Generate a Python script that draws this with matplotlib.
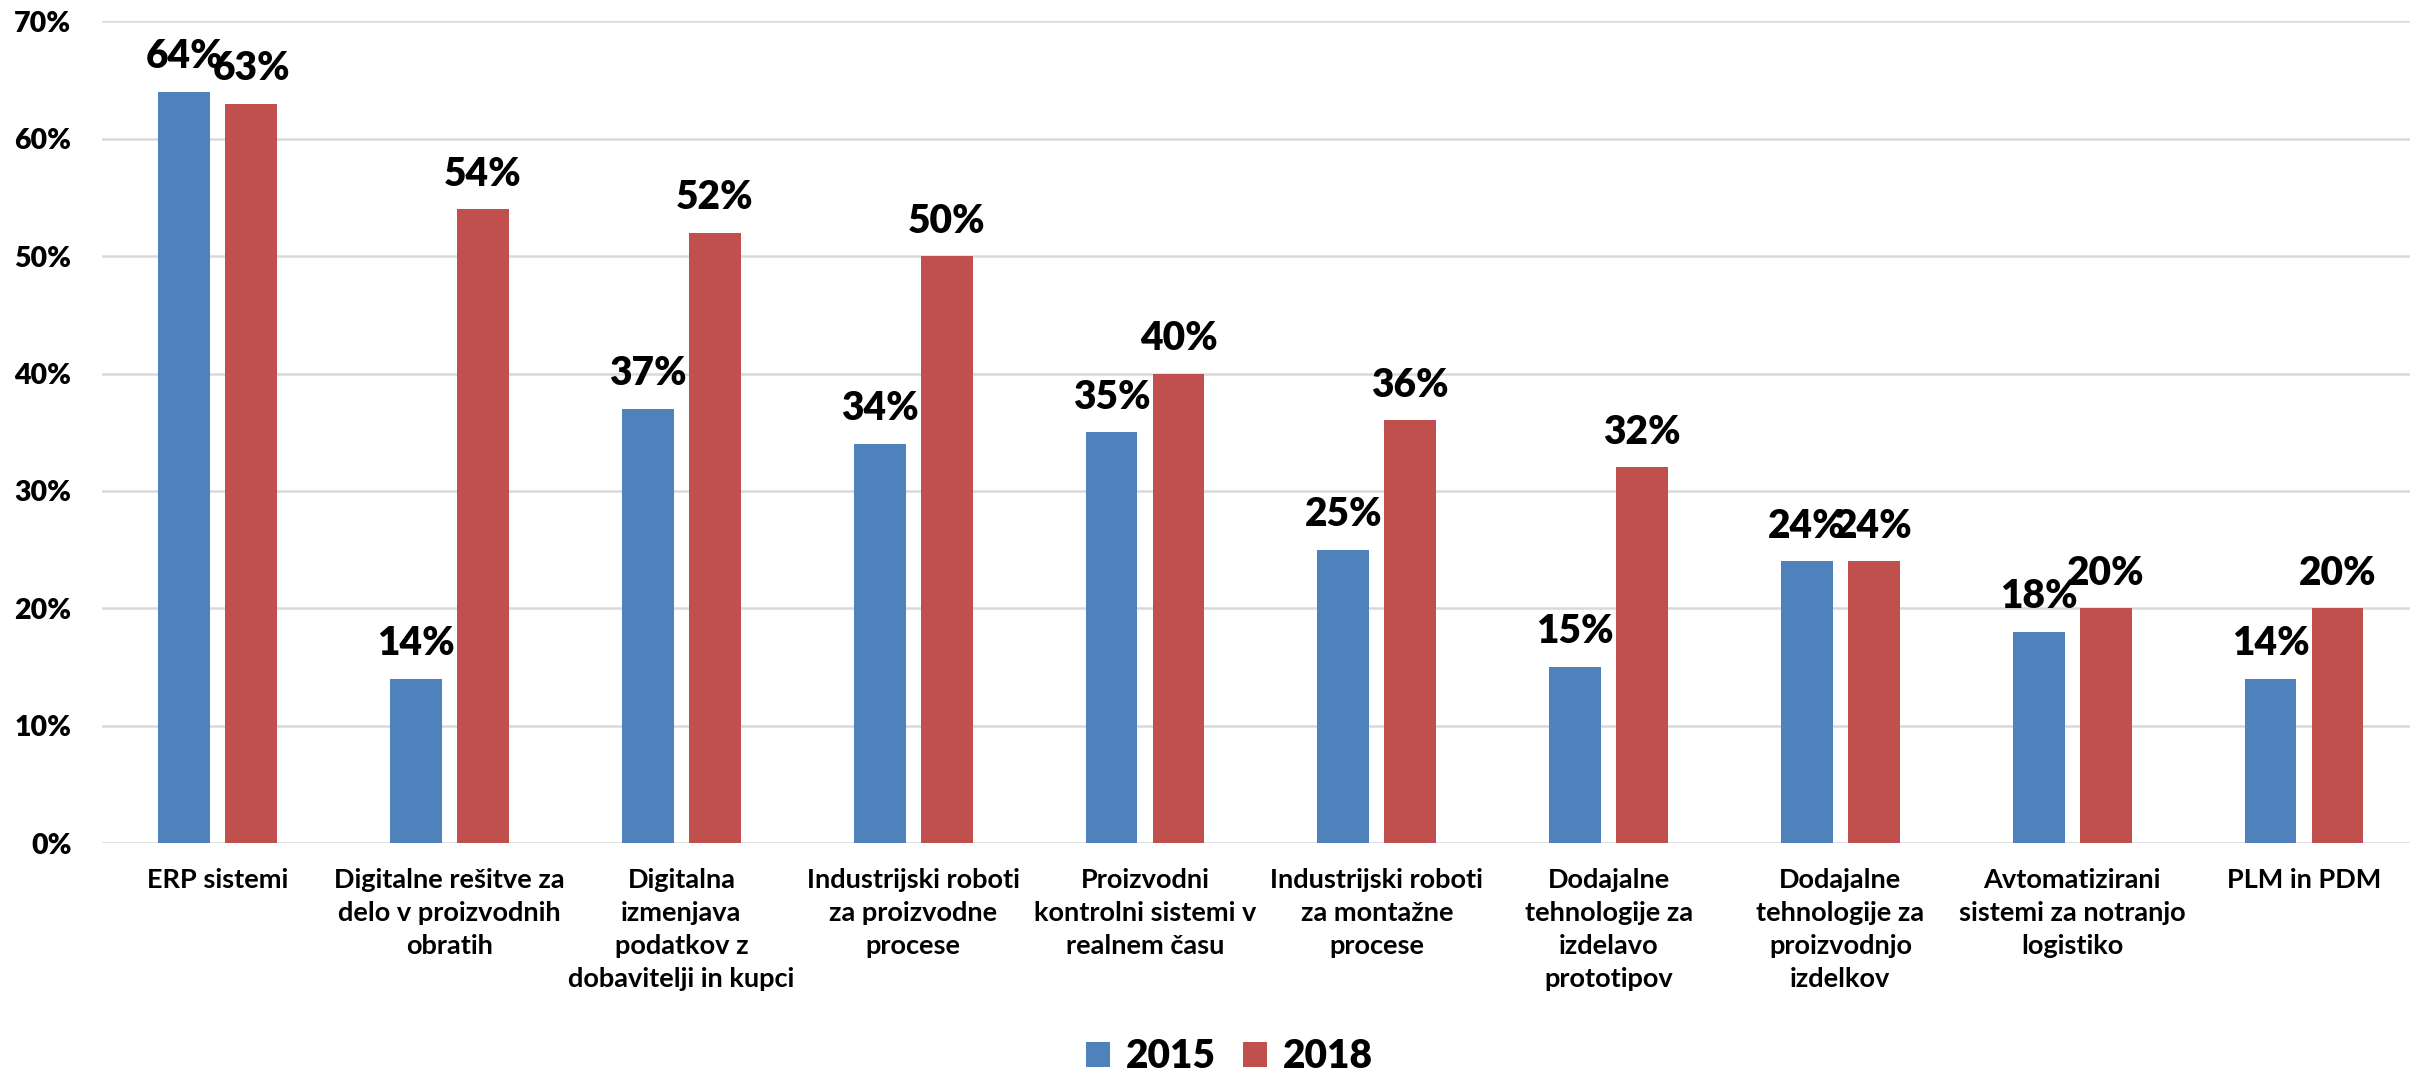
import numpy as np
import matplotlib.pyplot as plt
from matplotlib.ticker import PercentFormatter

plt.rcParams['font.family'] = ['Lato', 'DejaVu Sans']
plt.rcParams['font.weight'] = 'bold'

categories = ['ERP sistemi',
              'Digitalne rešitve za\ndelo v proizvodnih\nobratih',
              'Digitalna\nizmenjava\npodatkov z\ndobavitelji in kupci',
              'Industrijski roboti\nza proizvodne\nprocese',
              'Proizvodni\nkontrolni sistemi v\nrealnem času',
              'Industrijski roboti\nza montažne\nprocese',
              'Dodajalne\ntehnologije za\nizdelavo\nprototipov',
              'Dodajalne\ntehnologije za\nproizvodnjo\nizdelkov',
              'Avtomatizirani\nsistemi za notranjo\nlogistiko',
              'PLM in PDM']
vals_2015 = [64, 14, 37, 34, 35, 25, 15, 24, 18, 14]
vals_2018 = [63, 54, 52, 50, 40, 36, 32, 24, 20, 20]
series = ['2015', '2018']
colors = ['#4F81BD', '#C0504D']

fig = plt.figure(figsize=(24.1, 10.72), dpi=100)
# plot area runs slightly past the right edge, as in the reference
ax = fig.add_axes([0.0423, 0.2136, 0.9618, 0.7664])

x = np.arange(len(categories))
w = 0.224
gap = 0.065
off = (w + gap) / 2
b1 = ax.bar(x - off, vals_2015, w, color=colors[0], label=series[0], zorder=3)
b2 = ax.bar(x + off, vals_2018, w, color=colors[1], label=series[1], zorder=3)

for bars, vals in ((b1, vals_2015), (b2, vals_2018)):
    for r, v in zip(bars, vals):
        ax.annotate(f'{v}%', (r.get_x() + r.get_width() / 2, v),
                    xytext=(0, 17), textcoords='offset points',
                    ha='center', va='baseline', fontsize=28, fontweight='heavy')

ax.set_xlim(-0.5, len(categories) - 0.5)
ax.set_ylim(0, 70)
ax.set_yticks(np.arange(0, 71, 10))
ax.yaxis.set_major_formatter(PercentFormatter(decimals=0))
ax.set_xticks(x)
ax.set_xticklabels(categories, fontsize=19.5, fontweight='bold', linespacing=1.45)
ax.tick_params(axis='x', length=0, pad=18)
ax.tick_params(axis='y', length=0, labelsize=20.5, pad=22)
for lbl in ax.get_yticklabels():
    lbl.set_fontweight('heavy')

ax.grid(axis='y', color='#D9D9D9', linewidth=1.8, zorder=0)
for s in ax.spines.values():
    s.set_visible(False)

leg = fig.legend(handles=[b1, b2], labels=series, loc='center', ncol=2,
                 bbox_to_anchor=(0.51, 0.014), frameon=False, fontsize=28,
                 handlelength=0.62, handleheight=0.62, handletextpad=0.4,
                 columnspacing=0.7, borderpad=0)
for t in leg.get_texts():
    t.set_fontweight('heavy')

fig.savefig('out.png', dpi=100)
